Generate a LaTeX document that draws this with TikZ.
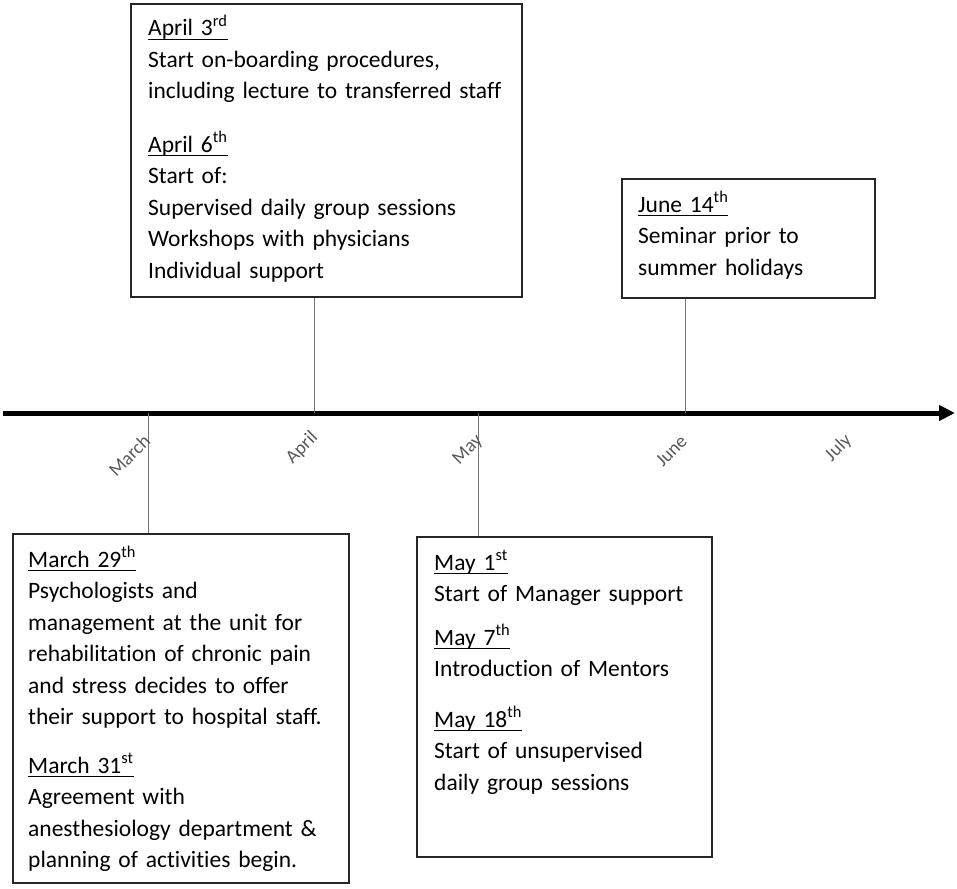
\documentclass[tikz,border=0pt]{standalone}
\usepackage{fontspec}
\setmainfont{Carlito}[Ligatures=NoCommon]
\usetikzlibrary{arrows.meta}
\newcommand{\dateul}[1]{\setbox0\hbox{#1}\rlap{\rule[-4pt]{\wd0}{1.2pt}}\box0}
\definecolor{conn}{gray}{0.45}
\definecolor{mon}{gray}{0.35}
\tikzset{
  evbox/.style={draw=black!85, line width=1.2pt, inner sep=0pt, fill=white},
  evtext/.style={anchor=base west, inner sep=0pt, text width=360pt, align=left,
    font=\fontsize{23.5}{31.5}\selectfont, text=black},
  conline/.style={draw=conn, line width=1pt},
  monlabel/.style={anchor=east, rotate=45, inner sep=0pt, text=mon,
    font=\fontsize{19}{21}\selectfont},
  axisline/.style={line width=5pt, -{Triangle[length=16pt,width=15pt]}}
}
\begin{document}
\begin{tikzpicture}[x=1pt,y=-1pt]
\useasboundingbox (0,0) rectangle (957,888);
% axis
\coordinate (axs) at (3,413);
\coordinate (axe) at (955,413);
\draw[axisline] (axs) -- (axe);
% ticks on axis
\coordinate (tMar) at (148,413);
\coordinate (tApr) at (314,413);
\coordinate (tMay) at (478,413);
\coordinate (tJun) at (685,413);
% boxes
\node[evbox, minimum width=391pt, minimum height=293pt] (boxA) at (326.5,150.5) {};
\node[evbox, minimum width=253pt, minimum height=119pt] (boxJ) at (748.5,238.5) {};
\node[evbox, minimum width=336pt, minimum height=349pt] (boxM) at (181,708.5) {};
\node[evbox, minimum width=295pt, minimum height=320pt] (boxY) at (564.5,697) {};
% connectors
\draw[conline] (tApr) -- (tApr |- boxA.south);
\draw[conline] (tJun) -- (tJun |- boxJ.south);
\draw[conline] (tMar) -- (tMar |- boxM.north);
\draw[conline] (tMay) -- (tMay |- boxY.north);
% month labels
\node[monlabel] (lMar) at (147,438) {March};
\node[monlabel] (lApr) at (315,435) {April};
\node[monlabel] (lMay) at (480,438) {May};
\node[monlabel] (lJun) at (684,438) {June};
\node[monlabel] (lJul) at (849,438) {July};
% April box text
\node[evtext] (a1) at (148,36) {\dateul{April 3\textsuperscript{rd}}\\
Start on-boarding procedures,\\
including lecture to transferred staff};
\node[evtext] (a2) at (148,152) {\dateul{April 6\textsuperscript{th}}\\
Start of:\\
Supervised daily group sessions\\
Workshops with physicians\\
Individual support};
% June box text
\node[evtext] (j1) at (638,212) {\dateul{June 14\textsuperscript{th}}\\
Seminar prior to\\
summer holidays};
% March box text
\node[evtext] (m1) at (28,567) {\dateul{March 29\textsuperscript{th}}\\
Psychologists and\\
management at the unit for\\
rehabilitation of chronic pain\\
and stress decides to offer\\
their support to hospital staff.};
\node[evtext] (m2) at (28,773) {\dateul{March 31\textsuperscript{st}}\\
Agreement with\\
anesthesiology department \&\\
planning of activities begin.};
% May box text
\node[evtext] (y1) at (434,570) {\dateul{May 1\textsuperscript{st}}\\
Start of Manager support};
\node[evtext] (y2) at (434,645) {\dateul{May 7\textsuperscript{th}}\\
Introduction of Mentors};
\node[evtext] (y3) at (434,727) {\dateul{May 18\textsuperscript{th}}\\
Start of unsupervised\\
daily group sessions};
\end{tikzpicture}
\end{document}
